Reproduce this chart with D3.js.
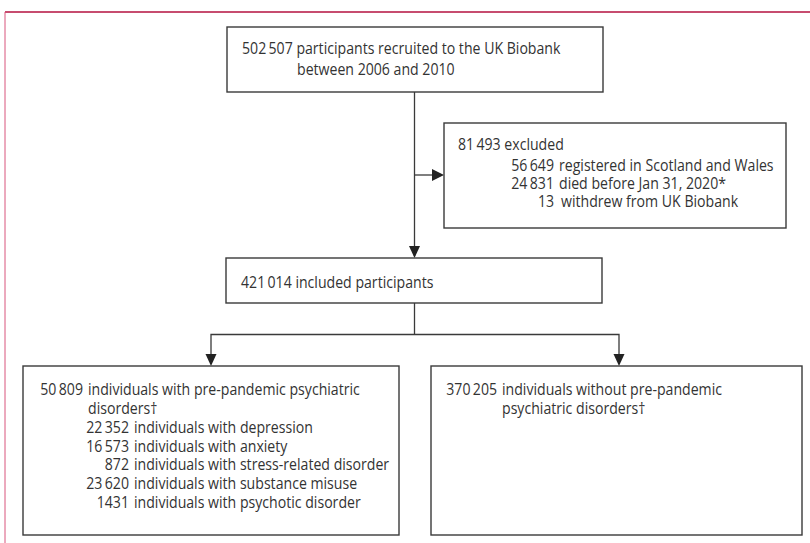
<!DOCTYPE html>
<head>
<meta charset="utf-8">
<style>
    body { margin: 0; background: #fff; }
    .box { fill: #fff; stroke: #3a3a3a; stroke-width: 1.4px; }
    .link { fill: none; stroke: #3a3a3a; stroke-width: 1.3px; }
    .head { fill: #222; }
    text { font-family: "Open Sans", sans-serif; font-size: 15.5px; fill: #333; }
</style>
<title>Flow chart</title>
</head>
<body>
<script src="https://d3js.org/d3.v7.min.js"></script>
<script>
    // counts
    const mainCounts = [502507, 81493, 421014, 50809, 370205];
    const mainLabels = [
        'participants recruited to the UK Biobank',
        'excluded',
        'included participants',
        'individuals with pre-pandemic psychiatric',
        'individuals without pre-pandemic'
    ];
    const exclusionCounts = [56649, 24831, 13];
    const exclusionLabels = [
        'registered in Scotland and Wales',
        'died before Jan 31, 2020*',
        'withdrew from UK Biobank'
    ];
    const disorderCounts = [22352, 16573, 872, 23620, 1431];
    const disorderLabels = [
        'individuals with depression',
        'individuals with anxiety',
        'individuals with stress-related disorder',
        'individuals with substance misuse',
        'individuals with psychotic disorder'
    ];

    // thin space grouping for numbers of five digits or more
    const grp = d3.formatLocale({ decimal: '.', thousands: '\u2009', grouping: [3] }).format(',');
    const fmt = n => n >= 10000 ? grp(n) : String(n);

    const width = 810, height = 543;
    const sx = 0.91; // the original typeface is narrower than Open Sans
    const svg = d3.select('body').append('svg')
        .attr('width', width)
        .attr('height', height);

    // frame
    svg.append('line').attr('x1', 5).attr('x2', width).attr('y1', 12).attr('y2', 12)
        .attr('stroke', '#b5103f').attr('stroke-width', 1.5);
    svg.append('line').attr('x1', 5).attr('x2', 5).attr('y1', 12).attr('y2', height)
        .attr('stroke', '#d8557c').attr('stroke-width', 1);

    const boxes = {
        top: { x0: 227, x1: 603, y0: 27, y1: 92 },
        excl: { x0: 444, x1: 786, y0: 123, y1: 228 },
        incl: { x0: 226, x1: 602, y0: 258, y1: 303 },
        left: { x0: 23, x1: 399, y0: 366, y1: 535 },
        right: { x0: 431, x1: 802, y0: 366, y1: 535 }
    };

    const links = svg.append('g');
    const heads = svg.append('g');

    function arrowDown(x, tip) {
        heads.append('path').attr('class', 'head')
            .attr('d', d3.line()([[x - 5.5, tip - 12], [x + 5.5, tip - 12], [x, tip]]) + 'Z');
    }
    function arrowRight(tip, y) {
        heads.append('path').attr('class', 'head')
            .attr('d', d3.line()([[tip - 12, y - 6], [tip - 12, y + 6], [tip, y]]) + 'Z');
    }

    const cx = 414.5;
    links.append('path').attr('class', 'link')
        .attr('d', d3.line()([[cx, boxes.top.y1], [cx, boxes.incl.y0 - 2]]));
    links.append('path').attr('class', 'link')
        .attr('d', d3.line()([[cx, 175], [boxes.excl.x0 - 2, 175]]));
    arrowRight(boxes.excl.x0, 175);
    arrowDown(cx, boxes.incl.y0);

    const by = 334.5;
    links.append('path').attr('class', 'link')
        .attr('d', d3.line()([[cx, boxes.incl.y1], [cx, by]]));
    links.append('path').attr('class', 'link')
        .attr('d', d3.line()([[211, boxes.left.y0 - 2], [211, by], [619, by], [619, boxes.right.y0 - 2]]));
    arrowDown(211, boxes.left.y0);
    arrowDown(619, boxes.right.y0);

    svg.append('g').selectAll('rect')
        .data(Object.values(boxes))
        .join('rect')
        .attr('class', 'box')
        .attr('x', d => d.x0)
        .attr('y', d => d.y0)
        .attr('width', d => d.x1 - d.x0)
        .attr('height', d => d.y1 - d.y0);

    const txt = svg.append('g');
    function put(x, y, s, anchor) {
        const t = txt.append('text')
            .attr('x', x).attr('y', y)
            .attr('text-anchor', anchor || 'start').text(s);
        // squeeze to the narrower face
        const w = t.node().getComputedTextLength();
        t.attr('textLength', (w * sx).toFixed(1)).attr('lengthAdjust', 'spacingAndGlyphs');
    }

    // top box
    put(242, 54, fmt(mainCounts[0]) + ' ' + mainLabels[0]);
    put(297, 75, 'between 2006 and 2010');

    // exclusions
    put(458, 150, fmt(mainCounts[1]) + ' ' + mainLabels[1]);
    exclusionCounts.forEach((c, i) => {
        const y = 170.5 + i * 18.3;
        put(554, y, fmt(c), 'end');
        put(559 + (i === 2 ? 2 : 0), y, exclusionLabels[i]);
    });

    // included
    put(241, 288, fmt(mainCounts[2]) + ' ' + mainLabels[2]);

    // with disorders
    put(83, 395, fmt(mainCounts[3]), 'end');
    put(88, 395, mainLabels[3]);
    put(88, 413.5, 'disorders\u2020');
    disorderCounts.forEach((c, i) => {
        const y = 433 + i * 18.7;
        put(129, y, fmt(c), 'end');
        put(134, y, disorderLabels[i]);
    });

    // without disorders
    put(497, 395, fmt(mainCounts[4]), 'end');
    put(502, 395, mainLabels[4]);
    put(502, 413.5, 'psychiatric disorders\u2020');
</script>
</body>
